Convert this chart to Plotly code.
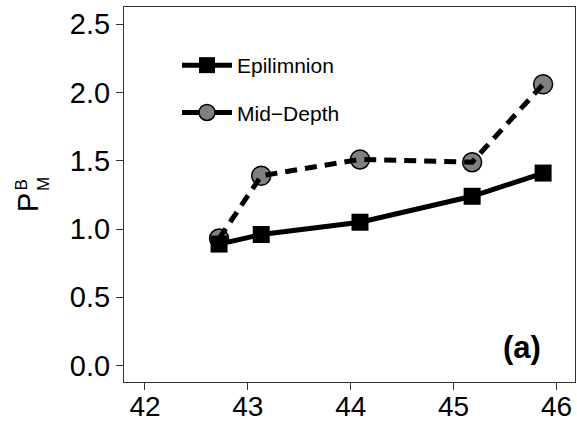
import plotly.graph_objects as go

lat = [42.72, 43.13, 44.09, 45.18, 45.87]
epilimnion = [0.89, 0.96, 1.05, 1.24, 1.41]
mid_depth = [0.93, 1.39, 1.51, 1.49, 2.06]
series_names = ["Epilimnion", "Mid\u2212Depth"]
x_ticks = [42, 43, 44, 45, 46]
y_ticks = [0.0, 0.5, 1.0, 1.5, 2.0, 2.5]

FONT = "Liberation Sans, Arial, sans-serif"
W, H = 577, 421
ML, MR, MT, MB = 124, 2, 7, 39

fig = go.Figure()

# markers first (lines drawn on top, as in the reference)
fig.add_trace(go.Scatter(x=lat, y=mid_depth, mode="markers", showlegend=False,
                         marker=dict(symbol="circle", size=19, color="#808080",
                                     line=dict(color="black", width=1.5))))
fig.add_trace(go.Scatter(x=lat, y=epilimnion, mode="markers", showlegend=False,
                         marker=dict(symbol="square", size=17, color="black",
                                     line=dict(width=0))))
fig.add_trace(go.Scatter(x=lat, y=epilimnion, mode="lines", showlegend=False,
                         line=dict(color="black", width=5)))
fig.add_trace(go.Scatter(x=lat, y=mid_depth, mode="lines", showlegend=False,
                         line=dict(color="black", width=5, dash="12px,8px")))

# legend entries
fig.add_trace(go.Scatter(x=[None], y=[None], mode="lines+markers", name=series_names[0],
                         legendgroup="a",
                         line=dict(color="black", width=5),
                         marker=dict(symbol="square", size=17, color="black", line=dict(width=0))))
fig.add_trace(go.Scatter(x=[None], y=[None], mode="lines+markers", name=series_names[1],
                         legendgroup="b",
                         line=dict(color="black", width=5),
                         marker=dict(symbol="circle", size=19, color="#808080",
                                     line=dict(color="black", width=1.5))))

axis_common = dict(showline=True, mirror=True, linecolor="#333333", linewidth=1.2,
                   ticks="outside", ticklen=7, tickwidth=1.2, tickcolor="#333333",
                   showgrid=False, zeroline=False, automargin=False)

pw, ph = W - ML - MR, H - MT - MB

fig.update_layout(
    width=W, height=H,
    margin=dict(l=ML, r=MR, t=MT, b=MB, pad=0, autoexpand=False),
    paper_bgcolor="white", plot_bgcolor="white",
    xaxis=dict(range=[41.796, 46.18], tickvals=x_ticks, ticktext=[str(v) for v in x_ticks],
               ticklabelstandoff=-8, tickfont=dict(family=FONT, size=28, color="black"),
               **axis_common),
    yaxis=dict(range=[-0.12, 2.626], tickvals=y_ticks, ticktext=[f"{v:.1f}" for v in y_ticks],
               tickfont=dict(family=FONT, size=29, color="black"), **axis_common),
    showlegend=True,
    legend=dict(x=(177 - ML) / pw, y=(H - MB - 45) / ph,
                xanchor="left", yanchor="top", bgcolor="rgba(0,0,0,0)",
                font=dict(family=FONT, size=21, color="black"),
                itemwidth=50, tracegroupgap=17, traceorder="grouped"),
)

def px_to_paper(px, py):
    return (px - ML) / pw, (H - MB - py) / ph

# y-axis title: P with subscript M and superscript B stacked
for txt, (px, py), size in [("P", (28, 203), 29), ("B", (20.5, 185), 17), ("M", (43.5, 184.5), 17)]:
    xp, yp = px_to_paper(px, py)
    fig.add_annotation(x=xp, y=yp, xref="paper", yref="paper", text=txt, showarrow=False,
                       textangle=-90, xanchor="center", yanchor="middle",
                       font=dict(family=FONT, size=size, color="black"))

xp, yp = px_to_paper(522, 347)
fig.add_annotation(x=xp, y=yp, xref="paper", yref="paper", text="<b>(a)</b>", showarrow=False,
                   xanchor="center", yanchor="middle",
                   font=dict(family=FONT, size=31, color="black"))

fig.write_html("out.html")
